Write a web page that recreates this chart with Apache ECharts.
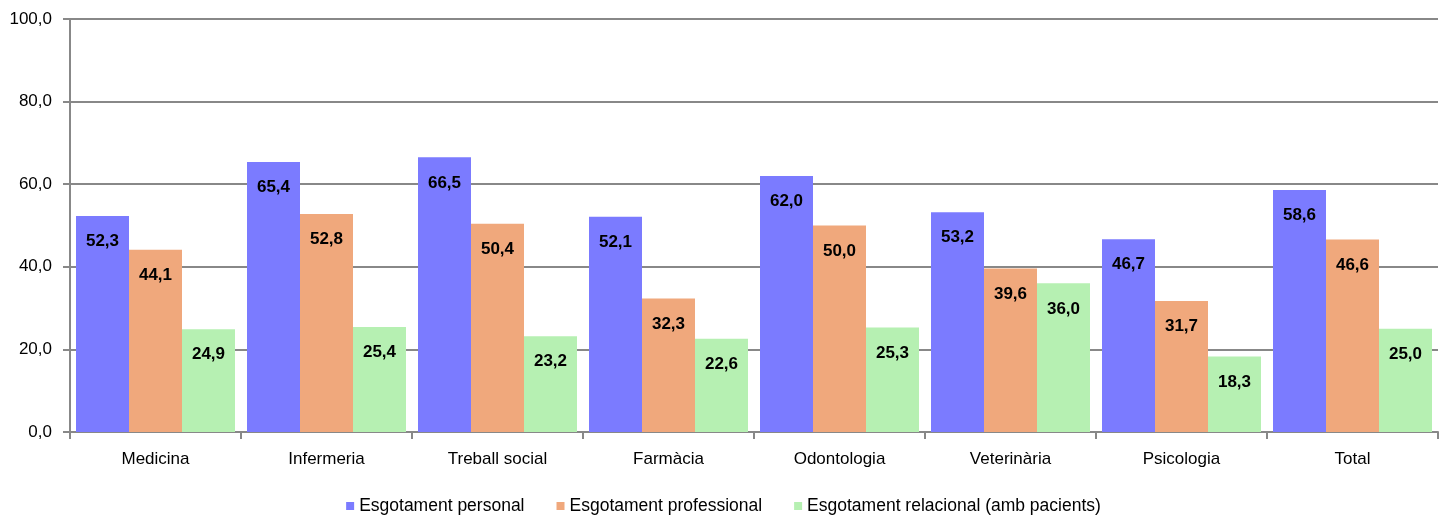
<!DOCTYPE html>
<html>
<head>
<meta charset="utf-8">
<script src="https://cdn.jsdelivr.net/npm/echarts@6/dist/echarts.min.js"></script>
<style>
html, body { margin: 0; padding: 0; background: #fff; }
#chart { width: 1447px; height: 525px; }
</style>
</head>
<body>
<div id="chart"></div>
<script>
var categories = ['Medicina', 'Infermeria', 'Treball social', 'Farmàcia', 'Odontologia', 'Veterinària', 'Psicologia', 'Total'];
var seriesNames = ['Esgotament personal', 'Esgotament professional', 'Esgotament relacional (amb pacients)'];
var personal = [52.3, 65.4, 66.5, 52.1, 62.0, 53.2, 46.7, 58.6];
var professional = [44.1, 52.8, 50.4, 32.3, 50.0, 39.6, 31.7, 46.6];
var relacional = [24.9, 25.4, 23.2, 22.6, 25.3, 36.0, 18.3, 25.0];
var colors = ['#7b7bff', '#f0a87c', '#b6f0b2'];

var font = '"Liberation Sans", Arial, sans-serif';

// decimal comma, one digit
var fmt = function(v) {
    return v.toFixed(1).replace('.', ',');
};

var chart = echarts.init(document.getElementById('chart'));

var makeSeries = function(name, data, color) {
    return {
        name : name,
        type : 'bar',
        data : data,
        barWidth : 53,
        barGap : '0%',
        itemStyle : { color : color },
        label : {
            show : true,
            position : 'insideTop',
            distance : 17,
            fontFamily : font,
            fontWeight : 'bold',
            fontSize : 17,
            color : '#000',
            formatter : function(p) { return fmt(p.value); }
        }
    };
};

var option = {
    animation : false,
    textStyle : { fontFamily : font },
    legend : {
        bottom : 5,
        left : 'center',
        itemWidth : 8,
        itemHeight : 8,
        itemGap : 32,
        icon : 'rect',
        textStyle : { fontSize : 17.5, color : '#000', fontFamily : font },
        data : seriesNames
    },
    grid : {
        left : 70,
        right : 9,
        top : 19,
        bottom : 93
    },
    xAxis : {
        type : 'category',
        data : categories,
        axisLine : { lineStyle : { color : '#888', width : 2 } },
        axisTick : { show : true, length : 7, lineStyle : { color : '#888', width : 2 } },
        axisLabel : { fontSize : 17, color : '#000', margin : 19, fontFamily : font }
    },
    yAxis : {
        type : 'value',
        min : 0,
        max : 100,
        interval : 20,
        axisLine : { show : true, lineStyle : { color : '#888', width : 2 } },
        axisTick : { show : true, length : 7, lineStyle : { color : '#888', width : 2 } },
        splitLine : { lineStyle : { color : '#888', width : 2 } },
        axisLabel : {
            fontSize : 17,
            color : '#000',
            margin : 18,
            fontFamily : font,
            formatter : function(v) { return fmt(v); }
        }
    },
    series : [
        makeSeries(seriesNames[0], personal, colors[0]),
        makeSeries(seriesNames[1], professional, colors[1]),
        makeSeries(seriesNames[2], relacional, colors[2])
    ]
};
chart.setOption(option);
</script>
</body>
</html>
